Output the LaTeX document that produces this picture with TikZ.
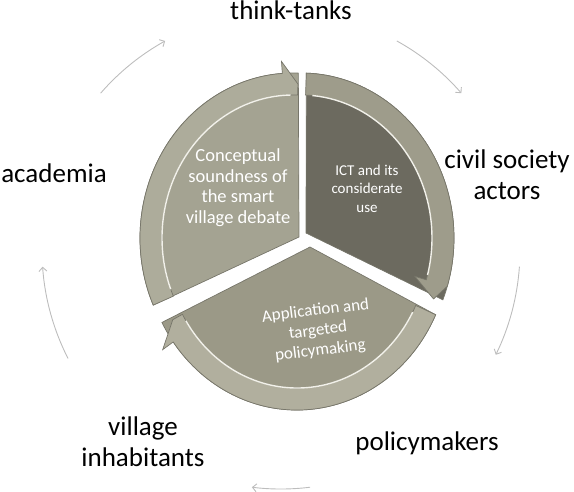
\documentclass[tikz,border=0pt]{standalone}
\usepackage{fontspec}
\setmainfont{Carlito}
\usetikzlibrary{arrows.meta}
\definecolor{bodyL}{HTML}{A4A392}
\definecolor{bandL}{HTML}{ADAC9B}
\definecolor{bodyR}{HTML}{6C6A5F}
\definecolor{bandR}{HTML}{9E9C8B}
\definecolor{bodyB}{HTML}{9B9987}
\definecolor{bandB}{HTML}{B1AF9E}
\definecolor{rimdark}{HTML}{77766A}
\definecolor{hilite}{HTML}{F2F1EA}
\definecolor{arcgray}{HTML}{BDBDBD}
\tikzset{
  cyc/.style={draw=arcgray, line width=0.9pt, -{Straight Barb[length=4pt,width=8pt]}},
  lbl/.style={font=\fontsize{27}{31}\selectfont, text=black, align=center, inner sep=0pt},
  segtext/.style={text=white, align=center, inner sep=0pt},
  rim/.style={draw=rimdark, line width=0.7pt},
  hl/.style={draw=hilite, line width=1.4pt},
}
\begin{document}
\begin{tikzpicture}[x=1pt,y=1pt]
\useasboundingbox (0,0) rectangle (574,491);
% ---------- outer cycle arcs ----------
\begin{scope}[shift={(281,241)}]
  \coordinate (c1) at (139:239pt);
  \coordinate (c2) at (61:239pt);
  \coordinate (c3) at (-4:239pt);
  \coordinate (c4) at (-83:239pt);
  \coordinate (c5) at (207:239pt);
  \draw[cyc] (c1) arc[start angle=139, end angle=119, radius=239pt];
  \draw[cyc] (c2) arc[start angle=61, end angle=41, radius=239pt];
  \draw[cyc] (c3) arc[start angle=-4, end angle=-26, radius=239pt];
  \draw[cyc] (c4) arc[start angle=-83, end angle=-97, radius=239pt];
  \draw[cyc] (c5) arc[start angle=207, end angle=184, radius=239pt];
\end{scope}
% ---------- left segment ----------
\begin{scope}[shift={(293,253)}]
  \fill[bodyL, rim] (6,1) -- (204:153pt and 165pt)
     arc[start angle=204, end angle=88, x radius=153pt, y radius=165pt] -- cycle;
  \fill[bandL, rim] (204:153pt and 165pt)
     arc[start angle=204, end angle=94, x radius=153pt, y radius=165pt]
     -- (94:165pt and 177pt) -- (88:142pt and 154pt) -- (88:131pt and 143pt)
     arc[start angle=88, end angle=204, x radius=131pt, y radius=143pt] -- cycle;
  \draw[hl] (201:131pt and 143pt)
     arc[start angle=201, end angle=91, x radius=131pt, y radius=143pt];
\end{scope}
% ---------- right segment ----------
\begin{scope}[shift={(301,253)}]
  \fill[bodyR, rim] (5,5) -- (88:153pt and 165pt)
     arc[start angle=88, end angle=-22, x radius=153pt, y radius=165pt] -- cycle;
  \fill[bandR, rim] (88:153pt and 165pt)
     arc[start angle=88, end angle=-17, x radius=153pt, y radius=165pt]
     -- (-23:144pt and 156pt) -- (-17:119pt and 131pt) -- (-17:131pt and 143pt)
     arc[start angle=-17, end angle=88, x radius=131pt, y radius=143pt] -- cycle;
  \draw[hl] (-15:131pt and 143pt)
     arc[start angle=-15, end angle=85, x radius=131pt, y radius=143pt];
\end{scope}
% ---------- bottom segment ----------
\begin{scope}[shift={(297,246)}]
  \fill[bodyB, rim] (13,-2) -- (-25:153pt and 165pt)
     arc[start angle=-25, end angle=-152, x radius=153pt, y radius=165pt] -- cycle;
  \fill[bandB, rim] (-25:153pt and 165pt)
     arc[start angle=-25, end angle=-144, x radius=153pt, y radius=165pt]
     -- (-144:166pt and 178pt) -- (-151:142pt and 154pt) -- (-151:131pt and 143pt)
     arc[start angle=-151, end angle=-25, x radius=131pt, y radius=143pt] -- cycle;
  \draw[hl] (-148:131pt and 143pt)
     arc[start angle=-148, end angle=-28, x radius=131pt, y radius=143pt];
\end{scope}
% ---------- segment texts ----------
\node[segtext, font=\fontsize{18.5}{20.5}\selectfont] (tL) at (238,303.5)
  {Conceptual\\soundness of\\the smart\\village debate};
\node[segtext, font=\fontsize{15}{18.5}\selectfont] (tR) at (367,302.5)
  {ICT and its\\considerate\\use};
\node[segtext, font=\fontsize{17}{20}\selectfont, rotate=7] (tB) at (318,160)
  {Application and\\targeted\\policymaking};
% ---------- outer labels ----------
\node[lbl, anchor=base] (think) at (291,471) {think-tanks};
\node[lbl, anchor=base] (acad) at (54,308) {academia};
\node[lbl] (civil) at (507,316) {civil society\\actors};
\node[lbl] (village) at (143,49) {village\\inhabitants};
\node[lbl] (policy) at (427,47.5) {policymakers};
\end{tikzpicture}
\end{document}
